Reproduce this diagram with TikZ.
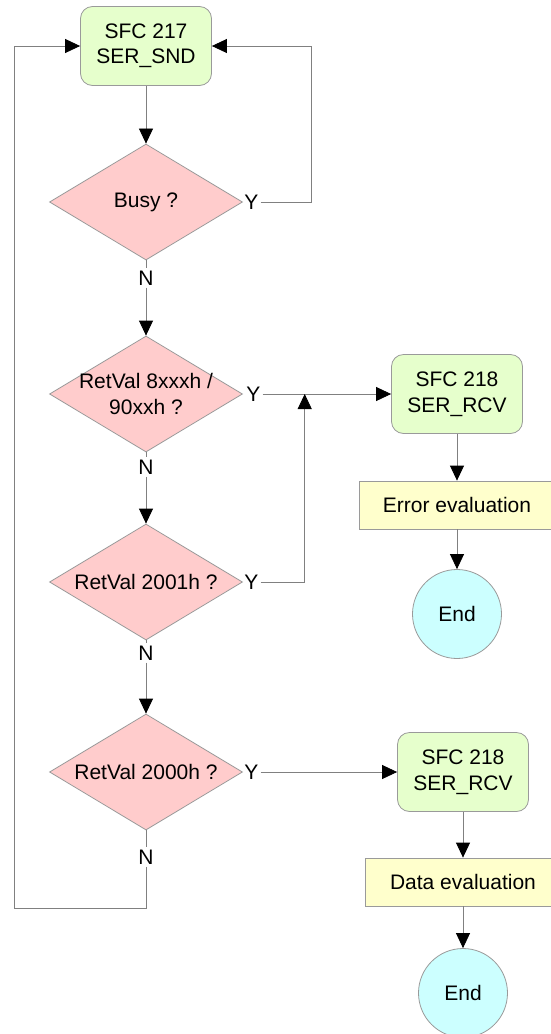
\documentclass[tikz,border=0pt]{standalone}
\usepackage{fontspec}
\setmainfont{Liberation Sans}
\usetikzlibrary{shapes.geometric,arrows.meta,positioning}
\definecolor{sfcgreen}{HTML}{E6FFCC}
\definecolor{askpink}{HTML}{FFCCCC}
\definecolor{evalyellow}{HTML}{FFFFCC}
\definecolor{endcyan}{HTML}{CCFFFF}
\definecolor{linegray}{HTML}{808080}
\definecolor{rimgray}{HTML}{9A9A9A}

\begin{document}
\begin{tikzpicture}[x=1pt,y=-1pt,>={Triangle[length=15pt,width=14pt,color=black]},line width=0.8pt,
    txt/.style={font=\fontsize{21}{25.5}\selectfont},
    sfc node/.style={txt,rectangle,rounded corners=12pt,draw=rimgray,fill=sfcgreen,align=center,minimum width=131pt,minimum height=79pt,inner sep=0pt},
    ask node/.style={diamond,draw=rimgray,fill=askpink,minimum width=193pt,minimum height=116pt,inner sep=0pt},
    eval node/.style={txt,rectangle,draw=rimgray,fill=evalyellow,minimum width=196pt,minimum height=48pt},
    stop node/.style={txt,circle,draw=rimgray,fill=endcyan,minimum size=89pt},
    yn/.style={txt,inner sep=2pt},
    link/.style={draw=linegray},
    flow/.style={->,draw=linegray}]

                \useasboundingbox (0,0) rectangle (550,1034);

                \node[sfc node] (snd) at (146,46) {SFC 217\\SER\_SND};
                \node[ask node, below of=snd, node distance=156pt, label={[txt]center:Busy ?}] (busy) {};
                \node[ask node, below of=busy, node distance=192pt, label={[txt,align=center]center:RetVal 8xxxh /\\90xxh ?}] (ret8) {};
                \node[ask node, below of=ret8, node distance=188pt, label={[txt]center:RetVal 2001h ?}] (ret2001) {};
                \node[ask node, below of=ret2001, node distance=190pt, label={[txt]center:RetVal 2000h ?}] (ret2000) {};

                \node[sfc node, right of=ret8, node distance=311pt] (rcvA) {SFC 218\\SER\_RCV};
                \node[eval node, below of=rcvA, node distance=111pt] (errEval) {Error evaluation};
                \node[stop node, below of=errEval, node distance=109pt] (endA) {End};

                \node[sfc node, right of=ret2000, node distance=317pt] (rcvB) {SFC 218\\SER\_RCV};
                \node[eval node, below of=rcvB, node distance=110pt] (dataEval) {Data evaluation};
                \node[stop node, below of=dataEval, node distance=111pt] (endB) {End};

                \node[yn, right=-1pt of busy] (busyY) {Y};
                \node[yn, below=8pt of busy] (busyN) {N};
                \node[yn, right=1pt of ret8] (ret8Y) {Y};
                \node[yn, below=5pt of ret8] (ret8N) {N};
                \node[yn, right=-1pt of ret2001] (ret2001Y) {Y};
                \node[yn, below=3pt of ret2001] (ret2001N) {N};
                \node[yn, right=-1pt of ret2000] (ret2000Y) {Y};
                \node[yn, below=17pt of ret2000] (ret2000N) {N};

                \coordinate[right=99pt of snd.east] (busyR);
                \coordinate[right=42pt of ret8Y.east] (join);
                \coordinate (loopL) at (14,908);

                \draw[flow] (snd) to (busy);
                \draw[link] (busy) to (busyN);
                \draw[flow] (busyN) to (ret8);
                \draw[link] (ret8) to (ret8N);
                \draw[flow] (ret8N) to (ret2001);
                \draw[link] (ret2001) to (ret2001N);
                \draw[flow] (ret2001N) to (ret2000);
                \draw[link] (ret2000) to (ret2000N);

                \draw[flow] (busyY) -| (busyR) -- (snd);
                \draw[flow] (ret2000N) |- (loopL) |- (snd);

                \draw[flow] (ret8Y) to (rcvA);
                \draw[flow] (ret2001Y) -| (join);
                \draw[flow] (rcvA) to (errEval);
                \draw[flow] (errEval) to (endA);

                \draw[flow] (ret2000Y) to (rcvB);
                \draw[flow] (rcvB) to (dataEval);
                \draw[flow] (dataEval) to (endB);

\end{tikzpicture}
\end{document}
